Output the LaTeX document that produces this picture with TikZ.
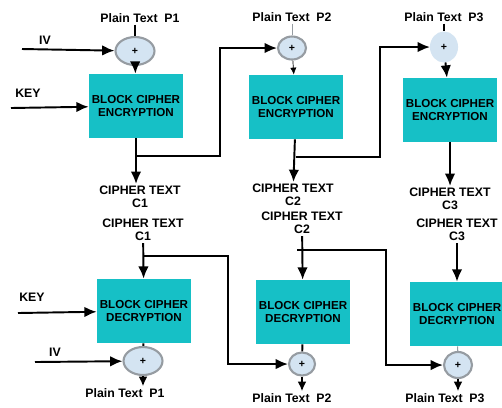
\documentclass[tikz,border=0pt]{standalone}
\usepackage{fontspec}
\setmainfont{Liberation Sans}
\usepackage{tikz}
\usetikzlibrary{positioning, arrows.meta, shapes.geometric}

\definecolor{blockfill}{RGB}{22,192,198}
\definecolor{xorfill}{RGB}{212,228,242}
\definecolor{xorline}{RGB}{150,156,162}

\tikzset{
	block/.style={rectangle, fill=blockfill, minimum width=1.88cm, minimum height=1.28cm, align=center, inner sep=0pt, font=\bfseries\fontsize{6.6}{7.5}\selectfont},
	xor/.style={ellipse, fill=xorfill, draw=xorline, line width=1.2pt, inner sep=0pt, font=\bfseries\fontsize{6}{6}\selectfont},
	lbl/.style={align=center, inner sep=1pt, font=\bfseries\fontsize{7}{7.5}\selectfont},
	arr/.style={line width=1.1pt, -{Latex[length=7pt,width=6pt]}},
	smallarr/.style={line width=1.1pt, -{Latex[length=5.5pt,width=5pt]}},
	ln/.style={line width=1.1pt},
}

\begin{document}
\begin{tikzpicture}[x=0.02cm, y=-0.02cm]
		\useasboundingbox (0,0) rectangle (502,407);
		\clip (0,0) rectangle (502,407);

		% encryption side
		\node[block] (enc1) at (136,106) {BLOCK CIPHER\\ENCRYPTION};
		\node[block] (enc2) at (296,107) {BLOCK CIPHER\\ENCRYPTION};
		\node[block] (enc3) at (450,110) {BLOCK CIPHER\\ENCRYPTION};

		\node[xor, minimum width=0.78cm, minimum height=0.56cm] (x1) at (135,51) {+};
		\node[xor, minimum width=0.56cm, minimum height=0.46cm] (x2) at (292,48) {+};
		\node[xor, minimum width=0.52cm, minimum height=0.58cm, draw=xorfill] (x3) at (444,47) {+};

		\node[lbl] (pt1) at (140,18) {Plain Text\ \ P1};
		\node[lbl] (pt2) at (292,17) {Plain Text\ \ P2};
		\node[lbl] (pt3) at (444,17) {Plain Text\ \ P3};
		\node[lbl] (iv1) at (45,40) {IV};
		\node[lbl] (key1) at (28,93) {KEY};
		\node[lbl] (ct1) at (140,197) {CIPHER TEXT\\C1};
		\node[lbl] (ct2) at (293,195) {CIPHER TEXT\\C2};
		\node[lbl] (ct3) at (450,199) {CIPHER TEXT\\C3};

		\coordinate (ivin1) at (22,49);
		\coordinate (keyin1) at (11,108);
		\coordinate (j1) at (135,156);
		\coordinate (j2) at (296,157);

		\draw[ln] (pt1.south -| x1) -- (x1);
		\draw[arr] (ivin1) -- (x1);
		\draw[arr] (x1) -- (enc1);
		\draw[arr] (keyin1) -- (enc1);
		\draw[arr] (enc1) -- (enc1 |- ct1.north);
		\draw[arr] (j1) -- (220,156) |- (x2);

		\draw[xorline, thin] (pt2) -- (x2);
		\draw[thin, -{Latex[length=4pt,width=3.5pt]}] (x2) -- (enc2);
		\draw[arr] (enc2) -- (ct2);
		\draw[arr] (j2) -- (380,157) |- (x3);

		\draw[ln] (pt3) -- (x3);
		\draw[arr] (x3) -- (enc3);
		\draw[arr] (enc3) -- (ct3);

		% decryption side
		\node[block] (dec1) at (144,311) {BLOCK CIPHER\\DECRYPTION};
		\node[block] (dec2) at (303,312) {BLOCK CIPHER\\DECRYPTION};
		\node[block] (dec3) at (457,314) {BLOCK CIPHER\\DECRYPTION};

		\node[xor, minimum width=0.78cm, minimum height=0.56cm] (x4) at (143,361) {+};
		\node[xor, minimum width=0.52cm, minimum height=0.46cm] (x5) at (302,364) {+};
		\node[xor, minimum width=0.56cm, minimum height=0.52cm] (x6) at (458,365) {+};

		\node[lbl] (dc1) at (143,230) {CIPHER TEXT\\C1};
		\node[lbl] (dc2) at (302,223) {CIPHER TEXT\\C2};
		\node[lbl] (dc3) at (457,230) {CIPHER TEXT\\C3};
		\node[lbl] (key2) at (32,297) {KEY};
		\node[lbl] (iv2) at (55,352) {IV};
		\node[lbl] (pp1) at (125,393) {Plain Text\ \ P1};
		\node[lbl] (pp2) at (292,398) {Plain Text\ \ P2};
		\node[lbl] (pp3) at (445,398) {Plain Text\ \ P3};

		\coordinate (keyin2) at (18,313);
		\coordinate (ivin2) at (35,362);
		\coordinate (j3) at (143,256);
		\coordinate (j4) at (297,250);

		\draw[arr] (dc1) -- (dec1);
		\draw[arr] (keyin2) -- (dec1);
		\draw[ln] (dec1) -- (x4);
		\draw[arr] (ivin2) -- (x4);
		\draw[smallarr] (x4) -- (x4 |- pp1.north);
		\draw[arr] (j3) -- (228,256) |- (x5);

		\draw[arr] (dc2) -- (dec2);
		\draw[ln] (dec2) -- (x5);
		\draw[smallarr] (x5) -- (x5 |- pp2.north);
		\draw[arr] (j4) -- (386,250) |- (x6);

		\draw[arr] (dc3) -- (dec3);
		\draw[xorline, line width=0.6pt] (dec3) -- (x6);
		\draw[smallarr] (x6) -- (x6 |- pp3.north);
	\end{tikzpicture}
\end{document}
